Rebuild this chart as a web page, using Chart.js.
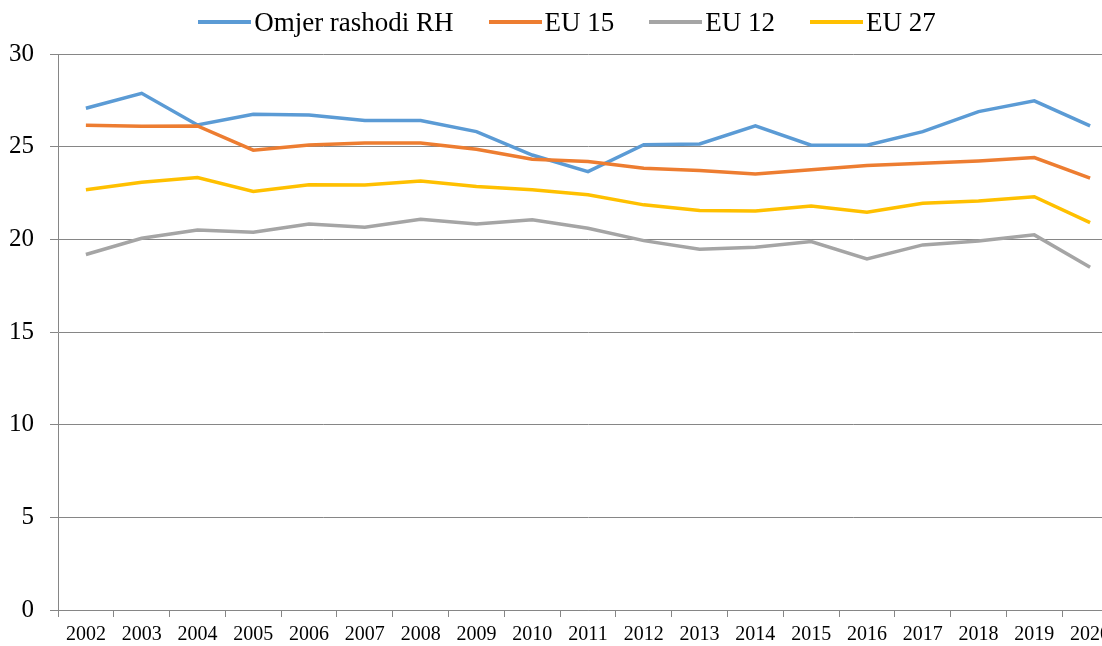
<!DOCTYPE html>
<html>
<head>
<meta charset="utf-8">
<script src="https://cdn.jsdelivr.net/npm/chart.js@4/dist/chart.umd.min.js"></script>
<style>
  html, body { margin: 0; padding: 0; background: #fff; overflow: hidden; }
  #wrap { position: relative; width: 1134px; height: 646px; }
  #legend {
    position: absolute; left: 0; top: 0; width: 1134px; height: 44px;
    display: flex; justify-content: center; align-items: center; gap: 35px;
    font-family: "Liberation Serif", "Times New Roman", serif; font-size: 27px; color: #000;
  }
  .item { display: flex; align-items: center; white-space: nowrap; line-height: 1; }
  .swatch { width: 53px; height: 3.5px; margin-right: 3px; }
</style>
</head>
<body>
<div id="wrap">
  <canvas id="c" width="1134" height="646"></canvas>
  <div id="legend"></div>
</div>
<script>
const years = ['2002','2003','2004','2005','2006','2007','2008','2009','2010','2011','2012','2013','2014','2015','2016','2017','2018','2019','2020'];
const seriesNames = ['Omjer rashodi RH', 'EU 15', 'EU 12', 'EU 27'];
const omjerRH = [27.07, 27.88, 26.17, 26.75, 26.71, 26.41, 26.41, 25.81, 24.55, 23.65, 25.11, 25.15, 26.12, 25.08, 25.08, 25.81, 26.89, 27.47, 26.12];
const eu15    = [26.16, 26.10, 26.12, 24.81, 25.09, 25.20, 25.20, 24.86, 24.32, 24.20, 23.83, 23.71, 23.53, 23.75, 23.98, 24.10, 24.23, 24.41, 23.30];
const eu12    = [19.18, 20.06, 20.50, 20.38, 20.83, 20.65, 21.08, 20.83, 21.05, 20.60, 19.93, 19.47, 19.57, 19.88, 18.94, 19.70, 19.91, 20.24, 18.49];
const eu27    = [22.67, 23.08, 23.33, 22.58, 22.95, 22.93, 23.15, 22.85, 22.67, 22.40, 21.86, 21.55, 21.53, 21.80, 21.46, 21.95, 22.07, 22.30, 20.90];
const yTicks = [0, 5, 10, 15, 20, 25, 30];
const colors = ['#5B9BD5', '#ED7D31', '#A5A5A5', '#FFC000'];
const seriesValues = [omjerRH, eu15, eu12, eu27];

const FONT = '"Liberation Serif", "Times New Roman", serif';
const GRID = '#868686';

// HTML legend built from the series names/colours
const legend = document.getElementById('legend');
seriesNames.forEach((name, i) => {
  const it = document.createElement('div'); it.className = 'item';
  const sw = document.createElement('span'); sw.className = 'swatch'; sw.style.background = colors[i];
  const tx = document.createElement('span'); tx.textContent = name;
  it.appendChild(sw); it.appendChild(tx); legend.appendChild(it);
});

const datasets = seriesNames.map((name, i) => ({
  label: name,
  data: seriesValues[i],
  borderColor: colors[i],
  backgroundColor: colors[i],
  borderWidth: 3.5,
  pointRadius: 0,
  pointHoverRadius: 0,
  tension: 0,
  fill: false,
  order: seriesNames.length - 1 - i
}));

new Chart(document.getElementById('c'), {
  type: 'line',
  data: { labels: years, datasets },
  options: {
    responsive: false,
    animation: false,
    devicePixelRatio: 1,
    layout: { padding: { top: 54, right: 16, left: 0, bottom: 0 } },
    plugins: { legend: { display: false }, tooltip: { enabled: false } },
    scales: {
      x: {
        offset: true,
        grid: { offset: true, drawOnChartArea: false, drawTicks: true, tickLength: 7, color: GRID, lineWidth: 1 },
        border: { color: GRID, width: 1 },
        ticks: { font: { family: FONT, size: 20 }, color: '#000', maxRotation: 0, autoSkip: false, padding: 6 },
        afterFit: (s) => { s.height = 36; }
      },
      y: {
        min: 0, max: 30,
        afterBuildTicks: (s) => { s.ticks = yTicks.map(v => ({ value: v })); },
        grid: { color: GRID, lineWidth: 1, tickLength: 8 },
        border: { color: GRID, width: 1 },
        ticks: { font: { family: FONT, size: 25 }, color: '#000', padding: 16 },
        afterFit: (s) => { s.width = 58; }
      }
    }
  }
});
</script>
</body>
</html>
